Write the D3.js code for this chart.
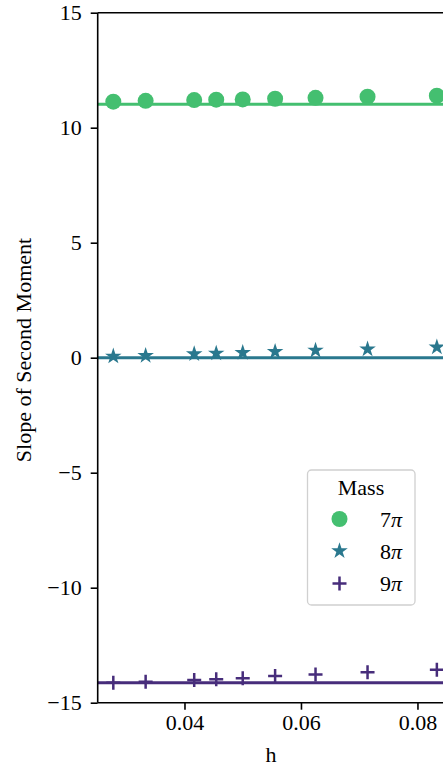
<!DOCTYPE html>
<html><head><meta charset="utf-8">
<script src="https://cdn.jsdelivr.net/npm/d3@7"></script>
<style>body{margin:0;background:#fff}svg{display:block}text{font-family:"Liberation Serif","Times New Roman",serif}</style>
</head><body>
<svg id="c" width="443" height="767"></svg>
<script>
const hValues = [0.02778, 0.03333, 0.04167, 0.04545, 0.05, 0.05556, 0.0625, 0.07143, 0.08333];
const mass7 = [11.13, 11.17, 11.20, 11.22, 11.23, 11.26, 11.30, 11.35, 11.39];
const mass8 = [0.06, 0.09, 0.16, 0.19, 0.22, 0.26, 0.32, 0.37, 0.46];
const mass9 = [-14.13, -14.09, -14.01, -13.98, -13.94, -13.84, -13.77, -13.68, -13.57];
const refLines = [11.02, 0, -14.13];
const seriesNames = ["7", "8", "9"];
const seriesColors = ["#44bf70", "#2a788e", "#472d7b"];
const xTicks = [0.04, 0.06, 0.08];
const yTicks = [15, 10, 5, 0, -5, -10, -15];

const FS = 22;
const svg = d3.select("#c");
const x = d3.scaleLinear().domain([0.0251, 0.09]).range([97.7, 475.7]);
const y = d3.scaleLinear().domain([-15, 15]).range([702.7, 12.7]);
const fmtY = d => d < 0 ? "\u2212" + Math.abs(d) : String(d);

// reference lines
refLines.forEach((v, i) => {
  svg.append("line").attr("x1", x.range()[0]).attr("x2", x.range()[1])
    .attr("y1", y(v)).attr("y2", y(v))
    .attr("stroke", seriesColors[i]).attr("stroke-width", 3);
});

const plusPath = "M-7,0H7M0,-7V7";
const star = d3.symbol().type(d3.symbolStar).size(85)();
function marker(g, i, cx, cy) {
  if (i === 0) g.append("circle").attr("cx", cx).attr("cy", cy).attr("r", 8).attr("fill", seriesColors[0]);
  else if (i === 1) g.append("path").attr("d", star).attr("transform", `translate(${cx},${cy})`).attr("fill", seriesColors[1]);
  else g.append("path").attr("d", plusPath).attr("transform", `translate(${cx},${cy})`).attr("stroke", seriesColors[2]).attr("stroke-width", 2.5).attr("fill", "none");
}
[mass7, mass8, mass9].forEach((arr, i) => {
  const g = svg.append("g");
  arr.forEach((v, j) => marker(g, i, x(hValues[j]), y(v)));
});

// axes
const xAxis = svg.append("g").attr("transform", "translate(0,702.7)")
  .call(d3.axisBottom(x).tickValues(xTicks).tickSize(7).tickPadding(5).tickFormat(d3.format(".2f")));
const yAxis = svg.append("g").attr("transform", "translate(97.7,0)")
  .call(d3.axisLeft(y).tickValues(yTicks).tickSize(7).tickPadding(9).tickFormat(fmtY));
[xAxis, yAxis].forEach(a => {
  a.selectAll("path.domain").attr("stroke", "#000").attr("stroke-width", 1.6);
  a.selectAll(".tick line").attr("stroke", "#000").attr("stroke-width", 1.6);
  a.selectAll("text").attr("font-size", FS).attr("fill", "#000").style("font-family", "'Liberation Serif',serif");
});
xAxis.select("path.domain").attr("d", `M${x.range()[0]},0H${x.range()[1]}`);
yAxis.select("path.domain").attr("d", `M0,${y.range()[0]}V${y.range()[1]}`);
// top spine
svg.append("line").attr("x1", 97.7).attr("x2", 475).attr("y1", 12.7).attr("y2", 12.7).attr("stroke", "#000").attr("stroke-width", 1.6);

// labels
svg.append("text").attr("x", 271).attr("y", 762).attr("text-anchor", "middle").attr("font-size", FS).text("h");
svg.append("text").attr("transform", "translate(31,350) rotate(-90)").attr("text-anchor", "middle").attr("font-size", FS).text("Slope of Second Moment");

// legend
const lg = svg.append("g");
lg.append("rect").attr("x", 307.5).attr("y", 470).attr("width", 107.5).attr("height", 135).attr("rx", 4)
  .attr("fill", "#fff").attr("fill-opacity", 0.8).attr("stroke", "#d0d0d0").attr("stroke-width", 1.3);
lg.append("text").attr("x", 361).attr("y", 494.5).attr("text-anchor", "middle").attr("font-size", FS).text("Mass");
const legY = [519, 551, 583.5];
seriesNames.forEach((n, i) => {
  marker(lg, i, 339.5, legY[i]);
  const t = lg.append("text").attr("x", 380).attr("y", legY[i] + 7.5).attr("font-size", FS);
  t.append("tspan").text(n);
  t.append("tspan").attr("font-style", "italic").text("\u03c0");
});
</script>
</body></html>
